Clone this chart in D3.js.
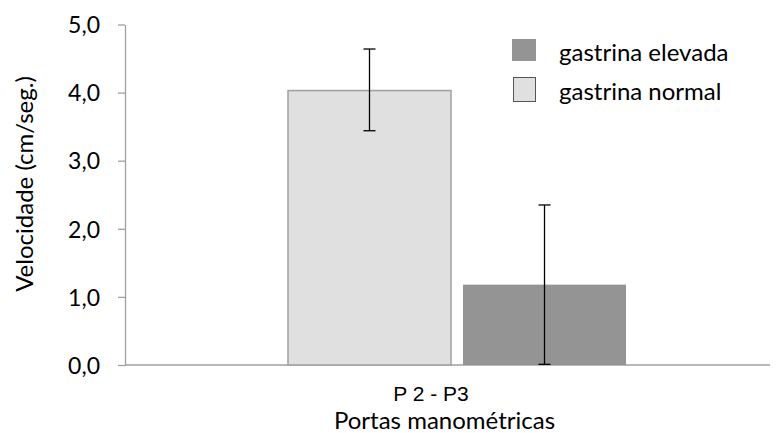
<!DOCTYPE html>
<html>
<head>
<meta charset="utf-8">
<script src="https://cdn.jsdelivr.net/npm/d3@7"></script>
<style>
  body { margin: 0; background: #fff; }
  text { font-family: Lato, "Open Sans", sans-serif; fill: #000; }
</style>
</head>
<body>
<div id="chart"></div>
<script>
// data
var categories = ['P 2 - P3'];
var seriesNames = ['gastrina normal', 'gastrina elevada'];
var meanValues = [4.03, 1.18];
var errLow = [3.44, 0.01];
var errHigh = [4.64, 2.35];
var yTicks = [0, 1, 2, 3, 4, 5];
var legendOrder = ['gastrina elevada', 'gastrina normal'];

var width = 776, height = 433;
var plotLeft = 125, plotRight = 770, plotTop = 24.5, plotBottom = 365;
var colors = { 'gastrina normal': '#e0e0e0', 'gastrina elevada': '#949494' };

var svg = d3.select('#chart').append('svg')
    .attr('width', width)
    .attr('height', height);

var y = d3.scaleLinear().domain([0, 5]).range([plotBottom, plotTop]);
var x0 = d3.scaleBand().domain(categories).range([plotLeft, plotLeft + 664]);
var x1 = d3.scaleBand().domain(seriesNames)
    .range([163, 501]).paddingInner(0.0686).paddingOuter(0);

var fmt = function (d) { return d3.format('.1f')(d).replace('.', ','); };

// y axis
var yAxis = svg.append('g')
    .attr('transform', 'translate(' + plotLeft + ',0)')
    .call(d3.axisLeft(y).tickValues(yTicks).tickSize(7).tickSizeOuter(0).tickFormat(fmt));
yAxis.select('.domain').attr('stroke', '#a0a0a0').attr('stroke-width', 1.3);
yAxis.selectAll('.tick line').attr('stroke', '#a0a0a0').attr('stroke-width', 1.3);
yAxis.selectAll('.tick text')
    .attr('x', -25)
    .attr('dy', '0.36em')
    .attr('font-size', 23)
    .style('font-family', 'Lato, sans-serif')
    .style('fill', '#000');

// x axis line
svg.append('line')
    .attr('x1', plotLeft).attr('x2', plotRight)
    .attr('y1', y(0)).attr('y2', y(0))
    .attr('stroke', '#a0a0a0').attr('stroke-width', 1.6);

// bars
var rows = seriesNames.map(function (s, i) {
    return { series: s, cat: categories[0], v: meanValues[i], lo: errLow[i], hi: errHigh[i] };
});

var g = svg.append('g');
g.selectAll('rect.bar')
    .data(rows)
    .enter()
    .append('rect')
    .attr('class', 'bar')
    .attr('x', function (d) { return x0(d.cat) + x1(d.series); })
    .attr('y', function (d) { return y(d.v); })
    .attr('width', x1.bandwidth())
    .attr('height', function (d) { return y(0) - y(d.v); })
    .attr('fill', function (d) { return colors[d.series]; })
    .attr('stroke', function (d) { return d.series === 'gastrina normal' ? '#a0a0a0' : 'none'; })
    .attr('stroke-width', 1.5);

// error bars
var eb = g.selectAll('g.err')
    .data(rows)
    .enter()
    .append('g')
    .attr('class', 'err')
    .attr('transform', function (d) {
        return 'translate(' + (x0(d.cat) + x1(d.series) + x1.bandwidth() / 2) + ',0)';
    });
eb.append('line')
    .attr('y1', function (d) { return y(d.lo); })
    .attr('y2', function (d) { return y(d.hi); })
    .attr('stroke', '#000').attr('stroke-width', 1.3);
eb.selectAll('line.cap')
    .data(function (d) { return [d.lo, d.hi]; })
    .enter()
    .append('line')
    .attr('class', 'cap')
    .attr('x1', -6).attr('x2', 6)
    .attr('y1', function (v) { return y(v); })
    .attr('y2', function (v) { return y(v); })
    .attr('stroke', '#000').attr('stroke-width', 1.3);

// category label
svg.selectAll('text.cat')
    .data(categories)
    .enter()
    .append('text')
    .attr('class', 'cat')
    .attr('x', function (d) { return x0(d) + 306; })
    .attr('y', 401)
    .attr('text-anchor', 'middle')
    .attr('font-size', 21)
    .style('font-family', '"Liberation Sans", Arial, sans-serif')
    .text(function (d) { return d; });

// axis titles
svg.append('text')
    .attr('x', (plotLeft + plotRight) / 2 - 3)
    .attr('y', 429)
    .attr('text-anchor', 'middle')
    .attr('font-size', 24)
    .text('Portas manométricas');

svg.append('text')
    .attr('transform', 'translate(33,184)rotate(-90)')
    .attr('text-anchor', 'middle')
    .attr('font-size', 24)
    .text('Velocidade (cm/seg.)');

// legend
var legend = svg.append('g').attr('transform', 'translate(512,39)');
var li = legend.selectAll('g')
    .data(legendOrder)
    .enter()
    .append('g')
    .attr('transform', function (d, i) { return 'translate(0,' + i * 38.5 + ')'; });
li.append('rect')
    .attr('x', function (d) { return d === 'gastrina normal' ? 1.5 : 0; })
    .attr('y', function (d) { return d === 'gastrina normal' ? 0 : 0; })
    .attr('width', function (d) { return d === 'gastrina normal' ? 22 : 24; })
    .attr('height', function (d) { return d === 'gastrina normal' ? 24 : 22; })
    .attr('fill', function (d) { return colors[d]; })
    .attr('stroke', function (d) { return d === 'gastrina normal' ? '#555' : 'none'; })
    .attr('stroke-width', 1);
li.append('text')
    .attr('x', 47)
    .attr('y', 22)
    .attr('font-size', 24)
    .text(function (d) { return d; });
</script>
</body>
</html>
